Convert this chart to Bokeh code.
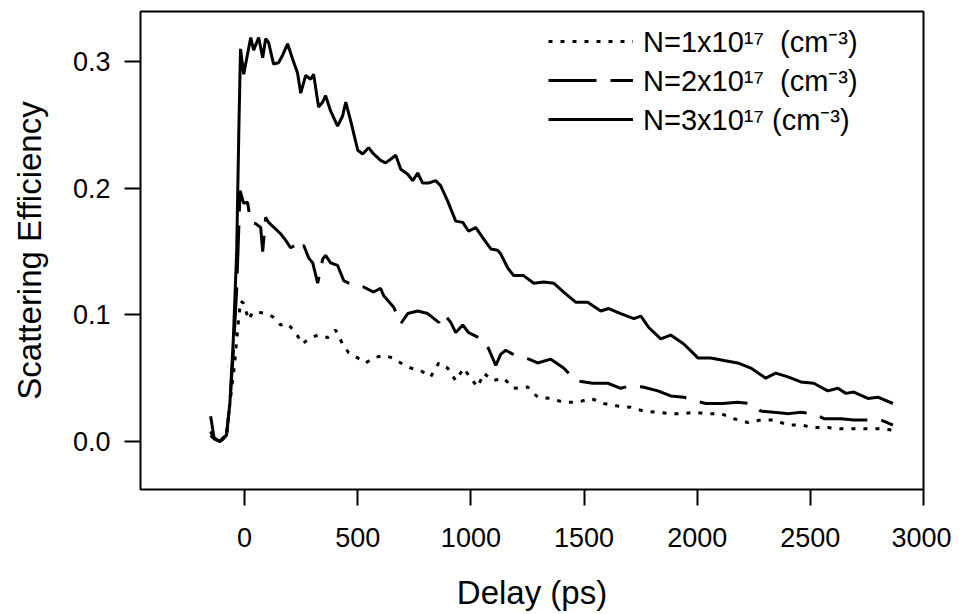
from bokeh.plotting import figure
from bokeh.models import Range1d, FixedTicker, PrintfTickFormatter, Legend, LegendItem
from bokeh.embed import file_html
from bokeh.resources import INLINE

# ---- data ----
n1_x = [-150, -135, -110, -95, -80, -65, -45, -30, -18, -4,
        18, 35, 62, 102, 128, 159, 190, 225, 256, 283,
        323, 367, 402, 433, 460, 500, 535, 570, 615, 654,
        690, 734, 778, 822, 858, 897, 933, 968, 999, 1030,
        1057, 1096, 1145, 1189, 1251, 1295, 1353, 1410, 1472, 1530,
        1587, 1649, 1706, 1764, 1826, 1883, 1941, 1985, 2047, 2104,
        2162, 2224, 2281, 2339, 2401, 2458, 2515, 2577, 2635, 2692,
        2754, 2812, 2865]
n1_y = [0.005, 0.002, 0.0, 0.002, 0.005, 0.03, 0.06, 0.09, 0.111, 0.109,
        0.096, 0.102, 0.102, 0.101, 0.098, 0.092, 0.093, 0.086, 0.077, 0.081,
        0.084, 0.082, 0.088, 0.077, 0.07, 0.066, 0.062, 0.066, 0.068, 0.066,
        0.062, 0.058, 0.056, 0.051, 0.062, 0.058, 0.048, 0.058, 0.05, 0.043,
        0.054, 0.048, 0.05, 0.042, 0.043, 0.035, 0.034, 0.031, 0.031, 0.034,
        0.03, 0.028, 0.027, 0.024, 0.023, 0.022, 0.022, 0.023, 0.022, 0.022,
        0.018, 0.015, 0.017, 0.017, 0.013, 0.013, 0.011, 0.011, 0.01, 0.01,
        0.01, 0.01, 0.009]

n2_x = [-150, -135, -110, -95, -80, -65, -50, -35, -20, -4,
        13, 27, 49, 71, 80, 93, 106, 159, 181, 203,
        225, 239, 261, 283, 301, 323, 345, 358, 380, 411,
        438, 482, 526, 570, 601, 615, 659, 690, 721, 765,
        809, 858, 880, 911, 933, 964, 990, 1057, 1079, 1110,
        1132, 1154, 1185, 1256, 1295, 1353, 1410, 1463, 1538, 1605,
        1662, 1706, 1760, 1826, 1883, 1941, 1994, 2038, 2113, 2179,
        2237, 2281, 2339, 2405, 2458, 2515, 2560, 2635, 2692, 2767,
        2812, 2865]
n2_y = [0.008, 0.002, 0.0, 0.002, 0.005, 0.03, 0.07, 0.12, 0.198, 0.188,
        0.189, 0.173, 0.172, 0.169, 0.15, 0.177, 0.173, 0.164, 0.159, 0.153,
        0.155, 0.151, 0.155, 0.145, 0.141, 0.125, 0.144, 0.147, 0.141, 0.139,
        0.127, 0.123, 0.122, 0.118, 0.121, 0.115, 0.106, 0.093, 0.101, 0.103,
        0.101, 0.094, 0.101, 0.094, 0.086, 0.092, 0.086, 0.08, 0.073, 0.06,
        0.069, 0.072, 0.069, 0.065, 0.062, 0.065, 0.058, 0.048, 0.046, 0.046,
        0.042, 0.044, 0.043, 0.04, 0.036, 0.035, 0.032, 0.03, 0.03, 0.031,
        0.03, 0.024, 0.023, 0.022, 0.023, 0.022, 0.018, 0.018, 0.017, 0.017,
        0.017, 0.013]

n3_x = [-150, -135, -110, -95, -80, -65, -50, -35, -25, -18,
        -4, 27, 40, 62, 80, 93, 106, 128, 150, 168,
        190, 212, 234, 248, 270, 292, 305, 327, 345, 358,
        380, 411, 433, 447, 469, 500, 522, 548, 570, 601,
        623, 654, 668, 690, 721, 743, 765, 787, 813, 844,
        866, 897, 933, 964, 990, 1021, 1052, 1088, 1118, 1132,
        1163, 1189, 1233, 1278, 1322, 1366, 1410, 1463, 1516, 1574,
        1609, 1662, 1720, 1751, 1786, 1839, 1883, 1941, 2003, 2060,
        2118, 2179, 2237, 2303, 2347, 2401, 2458, 2515, 2577, 2622,
        2657, 2692, 2754, 2798, 2865]
n3_y = [0.02, 0.003, 0.0, 0.003, 0.005, 0.03, 0.08, 0.15, 0.25, 0.31,
        0.29, 0.319, 0.309, 0.319, 0.303, 0.318, 0.315, 0.298, 0.299, 0.305,
        0.314, 0.302, 0.291, 0.275, 0.289, 0.286, 0.29, 0.264, 0.268, 0.273,
        0.261, 0.249, 0.257, 0.268, 0.253, 0.23, 0.227, 0.232, 0.227, 0.222,
        0.22, 0.224, 0.226, 0.215, 0.211, 0.206, 0.212, 0.204, 0.204, 0.206,
        0.202, 0.19, 0.174, 0.173, 0.166, 0.169, 0.161, 0.152, 0.151, 0.148,
        0.137, 0.131, 0.131, 0.125, 0.126, 0.125, 0.118, 0.11, 0.11, 0.103,
        0.105, 0.101, 0.097, 0.099, 0.09, 0.081, 0.084, 0.077, 0.066, 0.066,
        0.064, 0.062, 0.058, 0.05, 0.054, 0.051, 0.047, 0.046, 0.04, 0.042,
        0.038, 0.039, 0.034, 0.035, 0.03]

labels = ["N=1x10\u00b9\u2077  (cm\u207b\u00b3)",
          "N=2x10\u00b9\u2077  (cm\u207b\u00b3)",
          "N=3x10\u00b9\u2077 (cm\u207b\u00b3)"]
x_ticks = [0, 500, 1000, 1500, 2000, 2500, 3000]
y_ticks = [0.0, 0.1, 0.2, 0.3]
x_title = "Delay (ps)"
y_title = "Scattering Efficiency"

FONT = "Liberation Sans"

p = figure(width=951, height=614, output_backend="svg", toolbar_location=None,
           x_range=Range1d(-460, 3000), y_range=Range1d(-0.0379, 0.3395),
           min_border_left=140, min_border_right=28, min_border_top=11,
           min_border_bottom=125)
p.grid.visible = False
p.outline_line_color = "black"
p.outline_line_width = 2
p.background_fill_color = "white"
p.border_fill_color = "white"

for ax in (p.xaxis[0], p.yaxis[0]):
    ax.axis_line_color = None
    ax.major_tick_line_color = "black"
    ax.major_tick_line_width = 2
    ax.major_tick_out = 16
    ax.major_tick_in = 0
    ax.minor_tick_line_color = None
    ax.major_label_text_font = FONT
    ax.major_label_text_font_size = "27px"
    ax.major_label_text_color = "black"
    ax.axis_label_text_font = FONT
    ax.axis_label_text_font_size = "33px"
    ax.axis_label_text_font_style = "normal"
    ax.axis_label_text_color = "black"

p.xaxis.ticker = FixedTicker(ticks=x_ticks)
p.yaxis.ticker = FixedTicker(ticks=y_ticks)
p.yaxis.formatter = PrintfTickFormatter(format="%.1f")
p.yaxis.major_label_orientation = "horizontal"
p.xaxis.axis_label = x_title
p.yaxis.axis_label = y_title
p.xaxis.major_label_standoff = 22
p.xaxis.axis_label_standoff = 24
p.yaxis.major_label_standoff = 14
p.yaxis.axis_label_standoff = 22

r1 = p.line(n1_x, n1_y, line_color="black", line_width=3, line_dash="4 8")
r2 = p.line(n2_x, n2_y, line_color="black", line_width=3, line_dash="48 14")
r3 = p.line(n3_x, n3_y, line_color="black", line_width=3)

legend = Legend(items=[LegendItem(label=labels[0], renderers=[r1]),
                       LegendItem(label=labels[1], renderers=[r2]),
                       LegendItem(label=labels[2], renderers=[r3])],
                location="top_right")
legend.label_text_font = FONT
legend.label_text_font_size = "29px"
legend.label_text_color = "black"
legend.glyph_width = 85
legend.glyph_height = 20
legend.label_width = 270
legend.label_standoff = 10
legend.spacing = 0
legend.padding = 6
legend.margin = 10
legend.border_line_color = None
legend.background_fill_alpha = 0
p.add_layout(legend)

open("out.html", "w").write(file_html(p, INLINE))
